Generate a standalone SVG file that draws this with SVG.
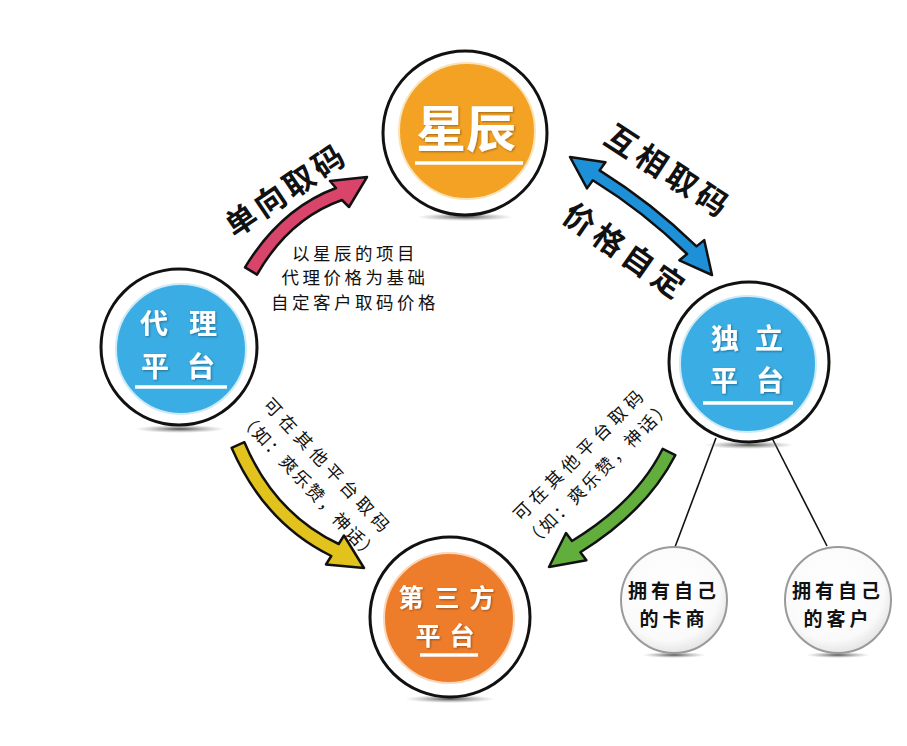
<svg xmlns="http://www.w3.org/2000/svg" width="907" height="746" viewBox="0 0 907 746">
<defs>
<style>
.outer{fill:#fff;stroke:#111;stroke-width:3}
.small{fill:url(#sg);stroke:#9a9a9a;stroke-width:2}
.nt{font-family:"Noto Sans CJK SC","Noto Sans",sans-serif;font-weight:700;fill:#fff;text-anchor:middle;dominant-baseline:central}
.ul{stroke:#fff;stroke-width:3.5}
.lab{font-family:"Noto Sans CJK SC","Noto Sans",sans-serif;font-weight:700;font-size:31px;fill:#111;text-anchor:middle;dominant-baseline:central}
.sm{font-family:"Noto Sans CJK SC","Noto Sans",sans-serif;font-weight:400;font-size:17.5px;fill:#111;text-anchor:middle;dominant-baseline:central}
.st{font-family:"Noto Sans CJK SC","Noto Sans",sans-serif;font-weight:700;font-size:19px;fill:#111;text-anchor:middle;dominant-baseline:central;letter-spacing:4px}
.arr{stroke:#111;stroke-width:2.5;stroke-linejoin:round}
.conn{stroke:#111;stroke-width:1.6}
</style>
<radialGradient id="sg" cx="0.45" cy="0.4" r="0.6">
<stop offset="0" stop-color="#fff"/><stop offset="0.8" stop-color="#fafafa"/><stop offset="1" stop-color="#e6e6e6"/>
</radialGradient>
<radialGradient id="sh" cx="0.5" cy="0.5" r="0.5">
<stop offset="0" stop-color="#333" stop-opacity="0.85"/><stop offset="1" stop-color="#888" stop-opacity="0"/>
</radialGradient>
<filter id="glow" x="-10%" y="-10%" width="120%" height="120%">
<feGaussianBlur in="SourceAlpha" stdDeviation="1.2"/>
<feOffset dx="0.5" dy="1" result="b"/>
<feFlood flood-color="#000" flood-opacity="0.35"/>
<feComposite in2="b" operator="in" result="s"/>
<feMerge><feMergeNode in="s"/><feMergeNode in="SourceGraphic"/></feMerge>
</filter>
</defs>
<rect width="907" height="746" fill="#fff"/>

<g id="connectors">
<line class="conn" x1="716" y1="438" x2="675" y2="547"/>
<line class="conn" x1="772" y1="438" x2="827" y2="546"/>
<path class="arr" fill="#D9456A" d="M245,267.4 Q280.8,208.5 336,188 L330,181 L367,177 L349,207 L342,200 Q289.2,218.5 257,274.6 Z"/>
<path class="arr" fill="#1E90D8" d="M570,157 L605.4,162.2 L599.6,170.4 Q652.2,203.3 696.5,246.4 L704.2,240.1 L712,275 L679.4,260.3 L687.1,254 Q643.8,211.7 592.8,180.2 L587,188.4 Z"/>
<path class="arr" fill="#E2C21C" d="M244.4,442.2 Q274.5,513.7 338.7,544 L344,535.5 L364,568 L326,564.5 L331.3,556 Q264.5,523.3 231.6,447.8 Z"/>
<path class="arr" fill="#62AE3C" d="M662.7,448.8 Q636.6,501.6 572,541 L566,533 L549,567 L586.4,560.2 L580.4,552.2 Q646.4,511.4 675.3,455.2 Z"/>
</g>

<g id="labels">
<text class="lab" transform="translate(285,188) rotate(-34)" letter-spacing="4">单向取码</text>
<text class="lab" transform="translate(670,170) rotate(33)" letter-spacing="5">互相取码</text>
<text class="lab" transform="translate(627,250) rotate(35)" letter-spacing="5">价格自定</text>
<text class="sm" font-size="16.5" letter-spacing="3.5" x="355" y="252">以星辰的项目</text>
<text class="sm" font-size="16.5" letter-spacing="3.5" x="355" y="276">代理价格为基础</text>
<text class="sm" font-size="16.5" letter-spacing="3.5" x="355" y="301">自定客户取码价格</text>
<text class="sm" transform="translate(329,466) rotate(47)" letter-spacing="5">可在其他平台取码</text>
<text class="sm" transform="translate(310,486) rotate(47)" letter-spacing="2">（如：爽乐赞，神话）</text>
<text class="sm" transform="translate(579,453) rotate(-45)" letter-spacing="5">可在其他平台取码</text>
<text class="sm" transform="translate(598,472) rotate(-45)" letter-spacing="2.5">（如：爽乐赞，神话）</text>
</g>

<g id="node-xingchen">
<ellipse cx="465" cy="217" rx="48" ry="4" fill="url(#sh)"/>
<circle class="outer" cx="465" cy="133" r="82"/>
<circle fill="#F4A224" stroke="#fbe3b8" stroke-width="2" cx="467" cy="131" r="68"/>
<text class="nt" font-weight="400" font-size="50" x="441 491" y="125" filter="url(#glow)">星辰</text>
<line class="ul" x1="415" y1="163" x2="523" y2="163"/>
</g>

<g id="node-daili">
<ellipse cx="180" cy="429" rx="45" ry="4" fill="url(#sh)"/>
<circle class="outer" cx="179" cy="347" r="78"/>
<circle fill="#3AADE4" stroke="#cdeaf8" stroke-width="2" cx="181" cy="349" r="65"/>
<text class="nt" font-size="28" x="154 203" y="322" filter="url(#glow)">代理</text>
<text class="nt" font-size="28" x="155 201" y="365" filter="url(#glow)">平台</text>
<line class="ul" x1="135" y1="387" x2="227" y2="387"/>
</g>

<g id="node-duli">
<ellipse cx="749" cy="445" rx="45" ry="4" fill="url(#sh)"/>
<circle class="outer" cx="749" cy="362" r="80"/>
<circle fill="#3AADE4" stroke="#cdeaf8" stroke-width="2" cx="748" cy="364" r="68"/>
<text class="nt" font-size="28" x="725 769" y="337" filter="url(#glow)">独立</text>
<text class="nt" font-size="28" x="724 770" y="379" filter="url(#glow)">平台</text>
<line class="ul" x1="703" y1="403" x2="793" y2="403"/>
</g>

<g id="node-disanfang">
<ellipse cx="450" cy="699" rx="45" ry="4" fill="url(#sh)"/>
<circle class="outer" cx="450" cy="617" r="80"/>
<circle fill="#EE7D2B" stroke="#fbd6b8" stroke-width="2" cx="449" cy="618" r="65"/>
<text class="nt" font-size="25" x="411 447 482" y="596" filter="url(#glow)">第三方</text>
<text class="nt" font-size="25" x="428 462" y="634" filter="url(#glow)">平台</text>
<line class="ul" x1="420" y1="655" x2="478" y2="655"/>
</g>

<g id="node-kashang">
<ellipse cx="674" cy="655" rx="32" ry="3" fill="url(#sh)"/>
<circle class="small" cx="674" cy="600" r="53"/>
<text class="st" x="674" y="589">拥有自己</text>
<text class="st" x="674" y="617">的卡商</text>
</g>

<g id="node-kehu">
<ellipse cx="838" cy="655" rx="32" ry="3" fill="url(#sh)"/>
<circle class="small" cx="838" cy="600" r="53"/>
<text class="st" x="838" y="589">拥有自己</text>
<text class="st" x="838" y="617">的客户</text>
</g>
</svg>
